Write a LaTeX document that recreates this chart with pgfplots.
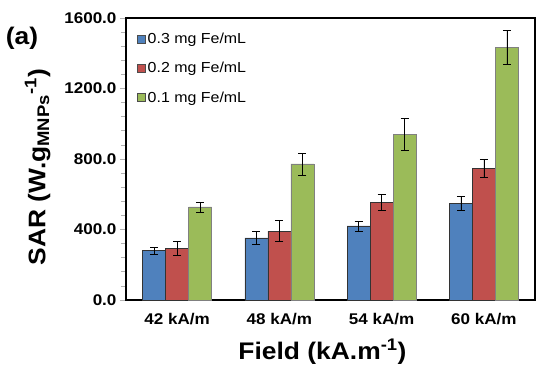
\documentclass[border=0pt]{standalone}
\usepackage{fontspec}
\setmainfont[FakeStretch=1.1]{Liberation Sans}
\usepackage{pgfplots}
\pgfplotsset{compat=1.18}
\definecolor{cblue}{HTML}{4F81BD}
\definecolor{cred}{HTML}{C0504D}
\definecolor{cgreen}{HTML}{9BBB59}
\begin{document}
\begin{tikzpicture}
\path[use as bounding box] (-126pt,-68pt) rectangle (410pt,300pt);
\begin{axis}[
  at={(0,0)}, anchor=south west,
  scale only axis, width=409pt, height=282pt,
  ybar=0pt, bar width=23pt,
  xmin=-0.5, xmax=3.5, ymin=0, ymax=1600,
  xtick={0,1,2,3},
  xticklabels={42 kA/m,48 kA/m,54 kA/m,60 kA/m},
  extra x ticks={0.5,1.5,2.5},
  extra x tick labels={},
  extra x tick style={major tick length=5pt, tick style={gray!60, line width=0.8pt}, tick pos=bottom, tick align=outside},
  x tick style={draw=none},
  ytick={0,400,800,1200,1600},
  minor y tick num=4,
  y tick style={gray!60, line width=0.8pt},
  tick pos=left,
  major tick length=6pt, minor tick length=5pt,
  ytick align=outside,
  minor tick style={gray!40},
  yticklabel style={/pgf/number format/.cd, fixed, fixed zerofill, precision=1, 1000 sep={}},
  /pgf/number format/assume math mode=true,
  ticklabel style={font=\fontsize{15.5}{18}\selectfont\bfseries},
  xticklabel style={yshift=-4pt},
  axis line style={line width=1.8pt, black},
  xlabel={Field (kA.m\textsuperscript{-1})},
  ylabel={SAR (W.g\textsubscript{MNPs}\textsuperscript{-1})},
  label style={font=\fontsize{24}{27}\selectfont\bfseries},
  xlabel style={yshift=4pt, xshift=-8pt},
  ylabel style={yshift=7pt, xshift=-8pt},
  legend style={draw=none, fill=none, at={(0.027,0.96)}, anchor=north west,
    font=\fontsize{14.5}{16}\selectfont, row sep=13pt,
    legend cell align=left, inner xsep=0pt,
    /tikz/every even column/.append style={column sep=1pt}},
  legend image code/.code={\draw[#1, draw=black!70] (0pt,-4pt) rectangle (8pt,4pt);},
  error bars/y dir=both, error bars/y explicit,
  error bars/error bar style={black, line width=0.6pt},
  error bars/error mark options={rotate=90, mark size=4pt, black, line width=0.6pt},
]
\addplot[fill=cblue, draw=black!80, line width=0.5pt] coordinates {
  (0,280) +- (0,19)
  (1,352) +- (0,36)
  (2,420) +- (0,28)
  (3,548) +- (0,40)
};
\addplot[fill=cred, draw=black!80, line width=0.5pt] coordinates {
  (0,293) +- (0,40)
  (1,391) +- (0,60)
  (2,554) +- (0,43)
  (3,747) +- (0,49)
};
\addplot[fill=cgreen, draw=black!50, line width=0.5pt] coordinates {
  (0,528) +- (0,28)
  (1,772) +- (0,62)
  (2,940) +- (0,89)
  (3,1435) +- (0,95)
};
\legend{0.3 mg Fe/mL, 0.2 mg Fe/mL, 0.1 mg Fe/mL}
\end{axis}
\node[font=\fontsize{24}{27}\selectfont\bfseries] at (-104pt,262pt) {(a)};
\end{tikzpicture}
\end{document}
